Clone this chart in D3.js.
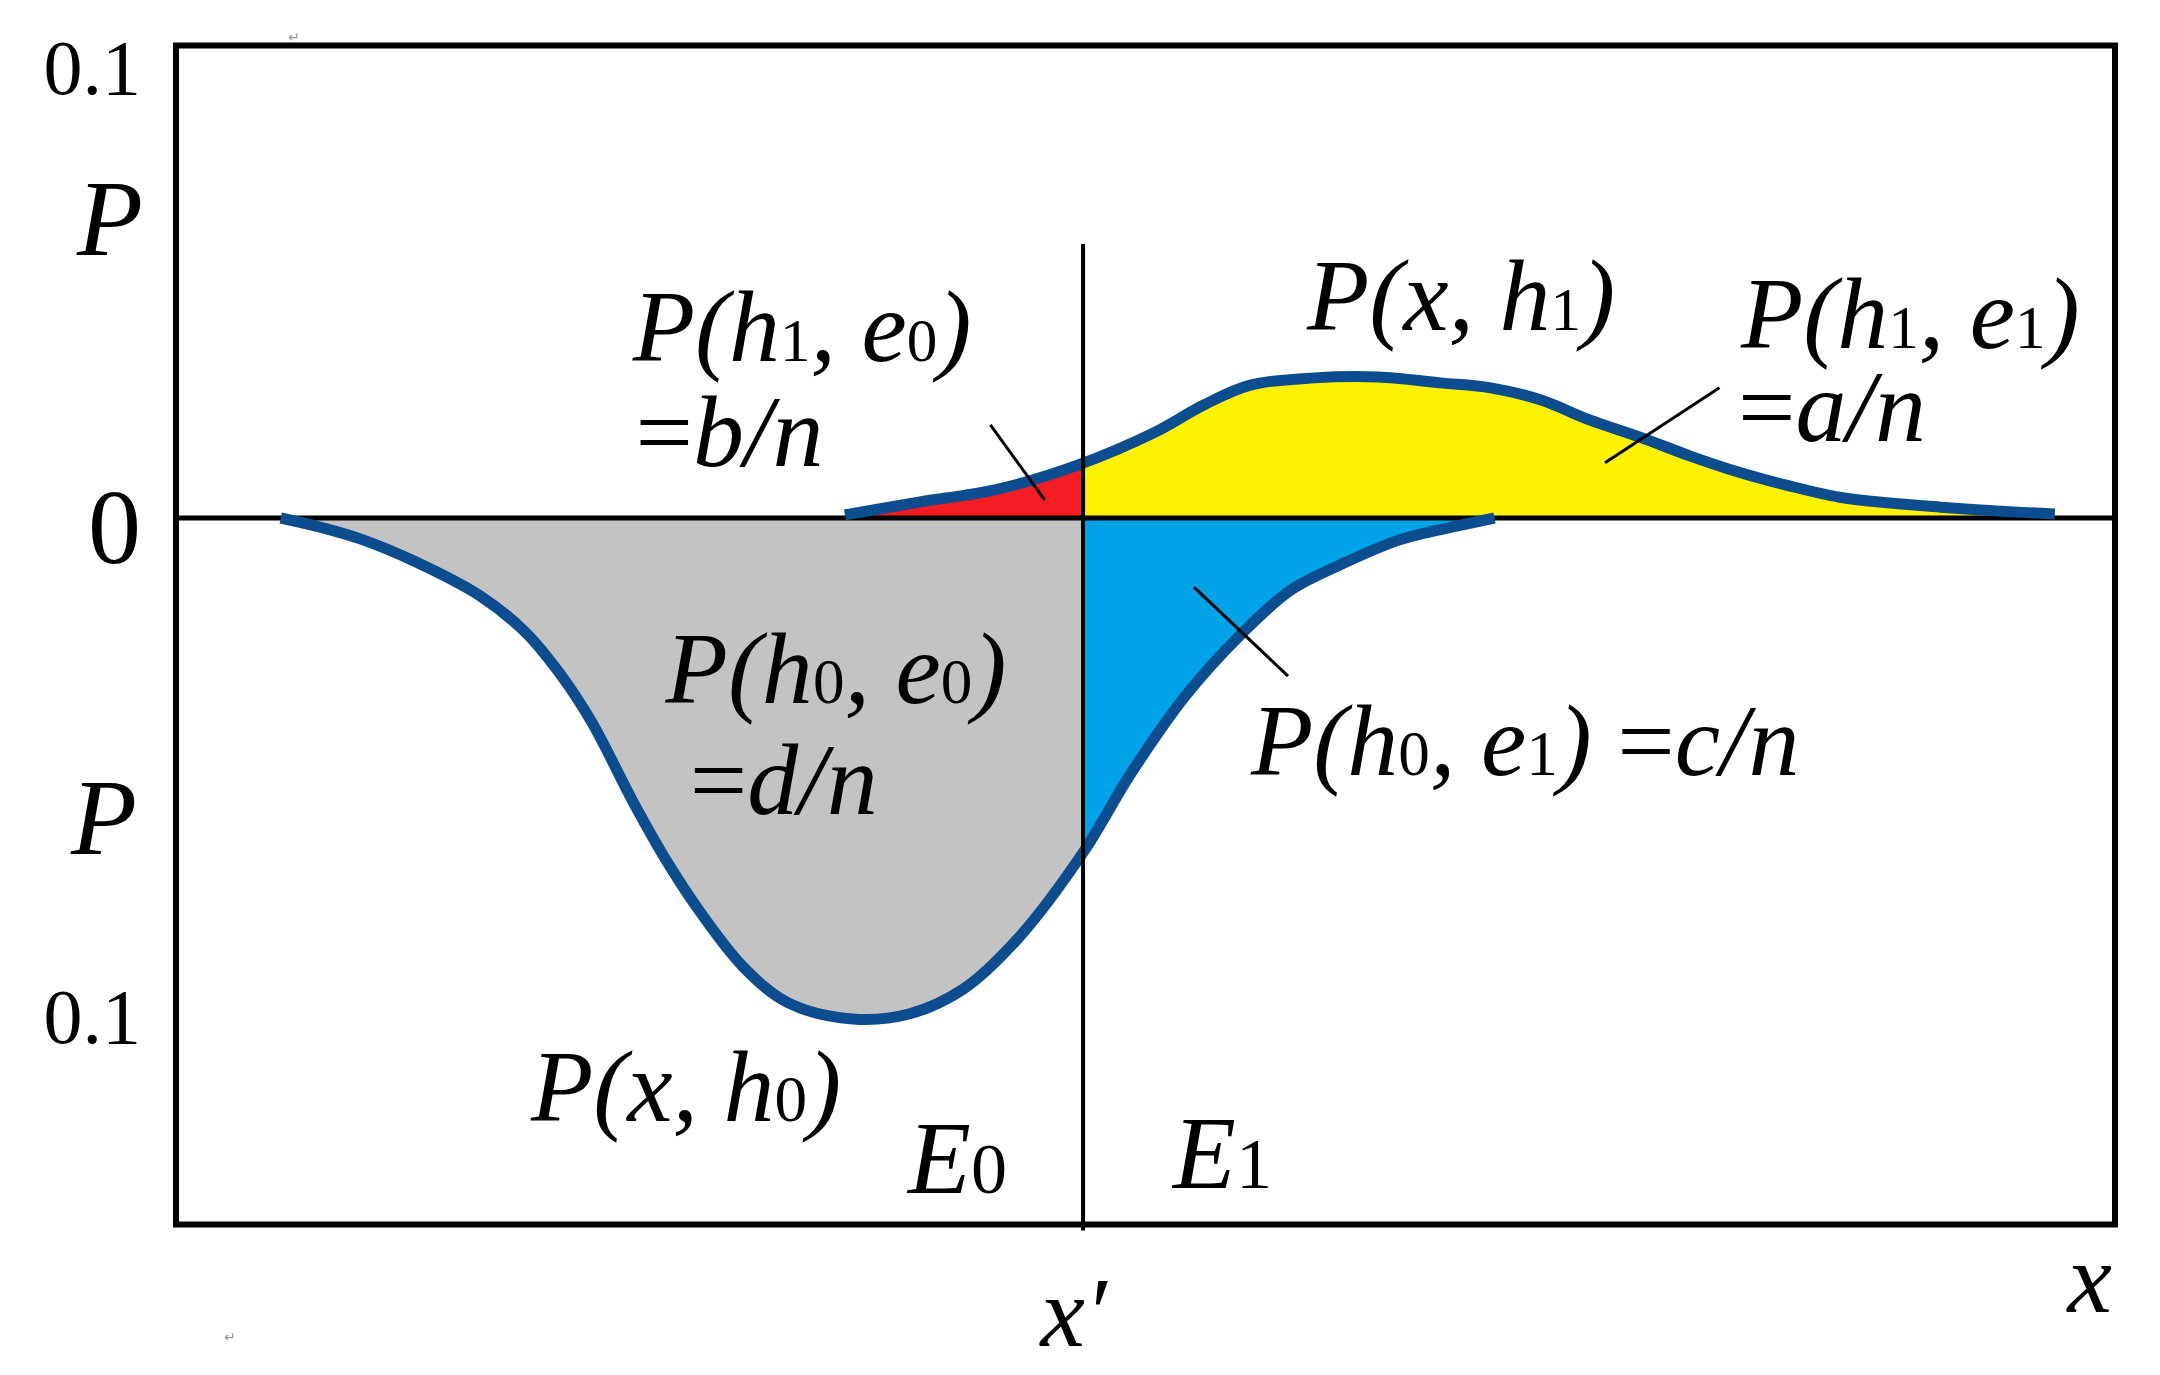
<!DOCTYPE html>
<html><head><meta charset="utf-8">
<script src="https://cdn.jsdelivr.net/npm/d3@7/dist/d3.min.js"></script>
<style>body{margin:0;background:#fff}text{white-space:pre}</style>
</head><body>
<svg id="chart" width="2160" height="1375"></svg>
<script>
// ---------- data ----------
const threshold = 46.78;                 // x'
// P(x, h0)  (drawn downward, negative side)
const h0X = [5.4, 7.4, 9.5, 12.3, 15.7, 18.0, 19.7, 21.4, 23.6, 25.3, 27.0, 29.3, 31.6, 34.9, 37.8, 40.6, 43.4, 46.8, 49.2, 52.1, 54.9, 57.5, 60.0, 63.1, 66.1, 68.0];
const h0P = [0, -0.0018, -0.0042, -0.0087, -0.0157, -0.0229, -0.0308, -0.0408, -0.0573, -0.0690, -0.0791, -0.0905, -0.0976, -0.1008, -0.0998, -0.0948, -0.0847, -0.0672, -0.0517, -0.0356, -0.0235, -0.0145, -0.0095, -0.0044, -0.0016, 0];
// P(x, h1)
const h1X = [34.5, 38.3, 42.4, 46.5, 50.5, 53.0, 55.4, 58.7, 62.0, 65.2, 67.8, 70.4, 72.9, 75.5, 78.1, 80.7, 83.2, 85.8, 88.4, 91.0, 94.1, 96.9];
const h1P = [0.0007, 0.0035, 0.0064, 0.0117, 0.0190, 0.0250, 0.0294, 0.0310, 0.0312, 0.0299, 0.0288, 0.0261, 0.0217, 0.0179, 0.0137, 0.0100, 0.0071, 0.0046, 0.0033, 0.0024, 0.0015, 0.0009];
const yTickValues = [0.1, 0, -0.1];
const yTickLabels = ["0.1", "0", "0.1"];
// annotation labels (anchor in data units)
const labelText = ["P(h_1, e_0)", "=b/n", "P(x, h_1)", "P(h_1, e_1)", "=a/n", "P(h_0, e_0)", "=d/n", "P(h_0, e_1) =c/n", "P(x, h_0)", "E_0", "E_1"];
const labelX    = [23.55, 23.7, 58.33, 80.71, 80.56, 25.25, 26.5, 55.44, 18.31, 37.75, 51.42];
const labelY    = [0.0347, 0.0115, 0.0416, 0.0376, 0.0170, -0.0372, -0.0596, -0.0517, -0.1213, -0.1358, -0.1348];
// leader lines (data units)
const leaderX1 = [42.0, 79.6, 52.5];
const leaderY1 = [0.0206, 0.0288, -0.0139];
const leaderX2 = [44.8, 73.7, 57.35];
const leaderY2 = [0.0040, 0.0122, -0.0318];

// ---------- layout / styles ----------
const W = 2160, H = 1375;
const plot = {left: 176, right: 2115, top: 45.5, bottom: 1224.5};
const serif = "'Liberation Serif','Times New Roman',Times,serif";
const curveBlue = "#0b4d8e";
const colRed = "#f61c24", colYellow = "#fff200", colGrey = "#c3c3c3", colBlue = "#00a2e8";

const svg = d3.select("#chart");
svg.append("rect").attr("width", W).attr("height", H).attr("fill", "#fff");

const x = d3.scaleLinear().domain([0, 100]).range([plot.left, plot.right]);
const y = d3.scaleLinear().domain([-0.1, 0, 0.1]).range([1015, 518, 66]);

const h0 = h0X.map((d, i) => ({x: d, p: h0P[i]}));
const h1 = h1X.map((d, i) => ({x: d, p: h1P[i]}));

// clip paths left / right of x'
const defs = svg.append("defs");
defs.append("clipPath").attr("id", "clipL").append("rect")
  .attr("x", 0).attr("y", 0).attr("width", x(threshold)).attr("height", H);
defs.append("clipPath").attr("id", "clipR").append("rect")
  .attr("x", x(threshold)).attr("y", 0).attr("width", W - x(threshold)).attr("height", H);

const curve = d3.curveCatmullRom.alpha(0.5);
const area = d3.area().x(d => x(d.x)).y0(y(0)).y1(d => y(d.p)).curve(curve);
const line = d3.line().x(d => x(d.x)).y(d => y(d.p)).curve(curve);

// fills
svg.append("path").datum(h0).attr("d", area).attr("fill", colGrey).attr("clip-path", "url(#clipL)");
svg.append("path").datum(h0).attr("d", area).attr("fill", colBlue).attr("clip-path", "url(#clipR)");
svg.append("path").datum(h1).attr("d", area).attr("fill", colRed).attr("clip-path", "url(#clipL)");
svg.append("path").datum(h1).attr("d", area).attr("fill", colYellow).attr("clip-path", "url(#clipR)");

// zero line
svg.append("line").attr("x1", plot.left).attr("x2", plot.right)
  .attr("y1", y(0)).attr("y2", y(0)).attr("stroke", "#000").attr("stroke-width", 5);

// curves
[h0, h1].forEach(s => svg.append("path").datum(s).attr("d", line)
  .attr("fill", "none").attr("stroke", curveBlue).attr("stroke-width", 11).attr("stroke-linecap", "butt"));

// x' vertical line
svg.append("line").attr("x1", x(threshold)).attr("x2", x(threshold))
  .attr("y1", 244).attr("y2", plot.bottom + 6).attr("stroke", "#000").attr("stroke-width", 4);

// leader lines
leaderX1.forEach((d, i) => svg.append("line")
  .attr("x1", x(d)).attr("y1", y(leaderY1[i])).attr("x2", x(leaderX2[i])).attr("y2", y(leaderY2[i]))
  .attr("stroke", "#000").attr("stroke-width", 3));

// frame
svg.append("rect").attr("x", plot.left).attr("y", plot.top)
  .attr("width", plot.right - plot.left).attr("height", plot.bottom - plot.top)
  .attr("fill", "none").attr("stroke", "#000").attr("stroke-width", 6);

// rich text helper
function richText(parent, str, fs, sub) {
  const t = parent.append("text").attr("font-family", serif).attr("font-size", fs).attr("fill", "#000");
  let i = 0;
  while (i < str.length) {
    const c = str[i];
    if (c === "_") { t.append("tspan").attr("font-style", "normal").attr("font-size", fs * sub).text(str[i + 1]); i += 2; }
    else if (c === "=") { t.append("tspan").attr("font-style", "normal").text("="); i++; }
    else {
      let j = i; while (j < str.length && str[j] !== "_" && str[j] !== "=") j++;
      t.append("tspan").attr("font-style", "italic").text(str.slice(i, j)); i = j;
    }
  }
  return t;
}

const labelSize = [102, 102, 102, 102, 102, 102, 102, 102, 102, 103, 103];
const labelSub  = [0.6, 0.6, 0.6, 0.6, 0.6, 0.62, 0.62, 0.62, 0.64, 0.7, 0.7];
const lg = svg.append("g");
labelText.forEach((s, i) => richText(lg, s, labelSize[i], labelSub[i])
  .attr("x", x(labelX[i])).attr("y", y(labelY[i])));

// y axis
const yAxis = d3.axisLeft(y).tickValues(yTickValues).tickFormat((d, i) => yTickLabels[i]).tickSize(0).tickPadding(35);
const gy = svg.append("g").attr("transform", `translate(${plot.left},0)`).call(yAxis);
gy.select(".domain").remove();
gy.selectAll(".tick text").attr("font-family", serif).attr("fill", "#000")
  .attr("font-size", d => d === 0 ? 106 : 78)
  .attr("dy", d => d === 0 ? "0.42em" : "0.35em");
// y titles
svg.append("text").attr("x", 143).attr("y", 255).attr("text-anchor", "end")
  .attr("font-family", serif).attr("font-style", "italic").attr("font-size", 108).text("P");
svg.append("text").attr("x", 137).attr("y", 854).attr("text-anchor", "end")
  .attr("font-family", serif).attr("font-style", "italic").attr("font-size", 108).text("P");

// x axis (tick at x')
const xAxis = d3.axisBottom(x).tickValues([threshold]).tickFormat(() => "x\u2032").tickSize(0).tickPadding(50);
const gx = svg.append("g").attr("transform", `translate(0,${plot.bottom})`).call(xAxis);
gx.select(".domain").remove();
gx.selectAll(".tick text").attr("font-family", serif).attr("font-style", "italic")
  .attr("font-size", 100).attr("fill", "#000").attr("dx", "-10");
svg.append("text").attr("x", 2112).attr("y", 1312).attr("text-anchor", "end")
  .attr("font-family", serif).attr("font-style", "italic").attr("font-size", 100).text("x");

// small paragraph marks (artifacts of the source)
svg.append("text").attr("x", 288).attr("y", 42).attr("font-family", serif).attr("font-size", 14).attr("fill", "#999").text("\u21b5");
svg.append("text").attr("x", 224).attr("y", 1342).attr("font-family", serif).attr("font-size", 14).attr("fill", "#999").text("\u21b5");
</script>
</body></html>
